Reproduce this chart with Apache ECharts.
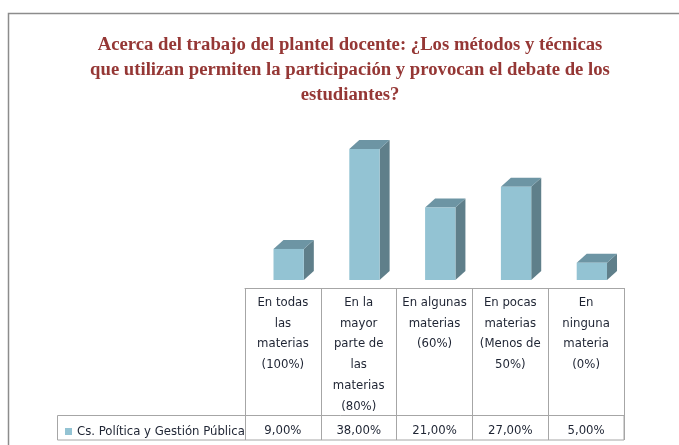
<!DOCTYPE html>
<html lang="es">
<head>
<meta charset="UTF-8">
<script src="https://cdn.jsdelivr.net/npm/echarts@6/dist/echarts.min.js"></script>
<title>Plantel docente</title>
<style>
  body { margin: 0; padding: 0; background: #fff; }
  #chart { width: 679px; height: 445px; }
</style>
</head>
<body>
<div id="chart"></div>
<script>
  // datos
  const categories = [
    'En todas\nlas\nmaterias\n(100%)',
    'En la\nmayor\nparte de\nlas\nmaterias\n(80%)',
    'En algunas\nmaterias\n(60%)',
    'En pocas\nmaterias\n(Menos de\n50%)',
    'En\nninguna\nmateria\n(0%)'
  ];
  const values = [9, 38, 21, 27, 5];
  const seriesName = 'Cs. Política y Gestión Pública';
  const valueLabels = values.map(v => v.toFixed(2).replace('.', ',') + '%');

  const font = '"Liberation Sans Narrow", "DejaVu Sans Condensed", sans-serif';
  const lineGray = '#a6a6a6';
  const textColor = '#1e2433';

  const chart = echarts.init(document.getElementById('chart'));

  // barra 3D: frente, lado y tapa
  function renderBar(params, api) {
    const base = api.coord([api.value(0), 0]);
    const top = api.coord([api.value(0), api.value(1)]);
    const band = api.size([1, 0])[0];
    const w = band * 0.4;
    const dx = 10, dy = 9;
    const x0 = base[0] - band * 0.124;
    const x1 = x0 + w;
    return {
      type: 'group',
      children: [
        {
          type: 'polygon',
          shape: { points: [[x1, top[1]], [x1 + dx, top[1] - dy], [x1 + dx, base[1] - dy], [x1, base[1]]] },
          style: { fill: '#5f7f8a' }
        },
        {
          type: 'polygon',
          shape: { points: [[x0, top[1]], [x0 + dx, top[1] - dy], [x1 + dx, top[1] - dy], [x1, top[1]]] },
          style: { fill: '#6d95a4' }
        },
        {
          type: 'rect',
          shape: { x: x0, y: top[1], width: w, height: base[1] - top[1] },
          style: { fill: '#93c3d3' }
        }
      ]
    };
  }

  const option = {
    animation: false,
    title: {
      text: 'Acerca del trabajo del plantel docente: ¿Los métodos y técnicas\nque utilizan permiten la participación y provocan el debate de los\nestudiantes?',
      left: 345,
      top: 28,
      textAlign: 'center',
      textStyle: {
        fontFamily: '"Liberation Serif", serif',
        fontWeight: 'bold',
        fontSize: 18.7,
        lineHeight: 25,
        color: '#953735'
      }
    },
    legend: {
      left: 60,
      top: 420,
      icon: 'rect',
      itemWidth: 7,
      itemHeight: 7,
      itemGap: 4,
      selectedMode: false,
      textStyle: { fontFamily: font, fontSize: 13, color: textColor },
      data: [seriesName]
    },
    grid: { left: 245, right: 55, top: 107.5, bottom: 165 },
    xAxis: [
      {
        type: 'category',
        data: categories,
        position: 'bottom',
        offset: 8,
        axisLine: { onZero: false, lineStyle: { color: lineGray } },
        axisTick: { show: true, length: 152, lineStyle: { color: lineGray } },
        axisLabel: {
          interval: 0,
          margin: 4,
          fontFamily: font,
          fontSize: 13,
          lineHeight: 20.8,
          color: textColor
        }
      },
      {
        type: 'category',
        data: valueLabels,
        position: 'bottom',
        offset: 134,
        axisLine: { show: false, onZero: false },
        axisTick: { show: false },
        axisLabel: {
          interval: 0,
          margin: 7,
          fontFamily: font,
          fontSize: 13,
          lineHeight: 20,
          color: textColor
        }
      }
    ],
    yAxis: { type: 'value', min: 0, max: 50, show: false },
    series: [
      {
        name: seriesName,
        type: 'custom',
        renderItem: renderBar,
        itemStyle: { color: '#93c3d3' },
        encode: { x: 0, y: 1 },
        data: values.map((v, i) => [i, v])
      }
    ],
    graphic: [
      {
        type: 'rect',
        shape: { x: 8.5, y: 13.5, width: 720, height: 480 },
        style: { fill: 'none', stroke: '#8c8c8c', lineWidth: 1.5 },
        silent: true
      },
      {
        type: 'rect',
        shape: { x: 57.5, y: 415.5, width: 566.5, height: 24.5 },
        style: { fill: 'none', stroke: lineGray, lineWidth: 1 },
        silent: true
      }
    ]
  };

  chart.setOption(option);
</script>
</body>
</html>
